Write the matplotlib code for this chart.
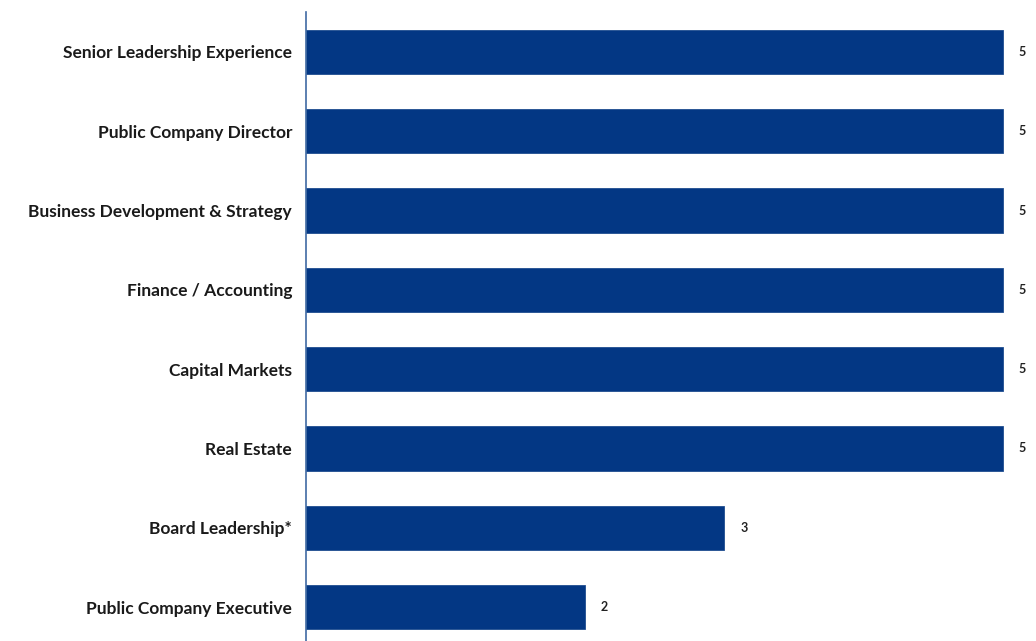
import matplotlib.pyplot as plt

skills = [
    "Senior Leadership Experience",
    "Public Company Director",
    "Business Development & Strategy",
    "Finance / Accounting",
    "Capital Markets",
    "Real Estate",
    "Board Leadership*",
    "Public Company Executive",
]
counts = [5, 5, 5, 5, 5, 5, 3, 2]

bar_color = "#033784"

fig = plt.figure(figsize=(10.36, 6.41), dpi=100)
ax = fig.add_axes([306 / 1036, -9.7 / 641, 730 / 1036, 638.4 / 641])

ypos = list(range(len(skills)))
ax.barh(ypos, counts, height=0.56, color=bar_color, edgecolor="#1f4d8f", linewidth=0.6)

for y, v in zip(ypos, counts):
    ax.text(v + 0.14, y, str(v), va="center", ha="center",
            fontsize=9, fontweight="bold", family="Lato", color="#222222")

ax.set_xlim(0, 5 * 730 / 697)
ax.set_ylim(7.55, -0.5)
ax.set_yticks(ypos)
ax.set_yticklabels(skills, fontsize=12.5, fontweight="bold", family="Lato", color="#1a1a1a")
ax.tick_params(axis="y", length=0, pad=10)
ax.set_xticks([])

for side in ["top", "right", "bottom"]:
    ax.spines[side].set_visible(False)
ax.spines["left"].set_color("#3f6aa3")
ax.spines["left"].set_linewidth(1.2)

fig.savefig("out.png", dpi=100)
